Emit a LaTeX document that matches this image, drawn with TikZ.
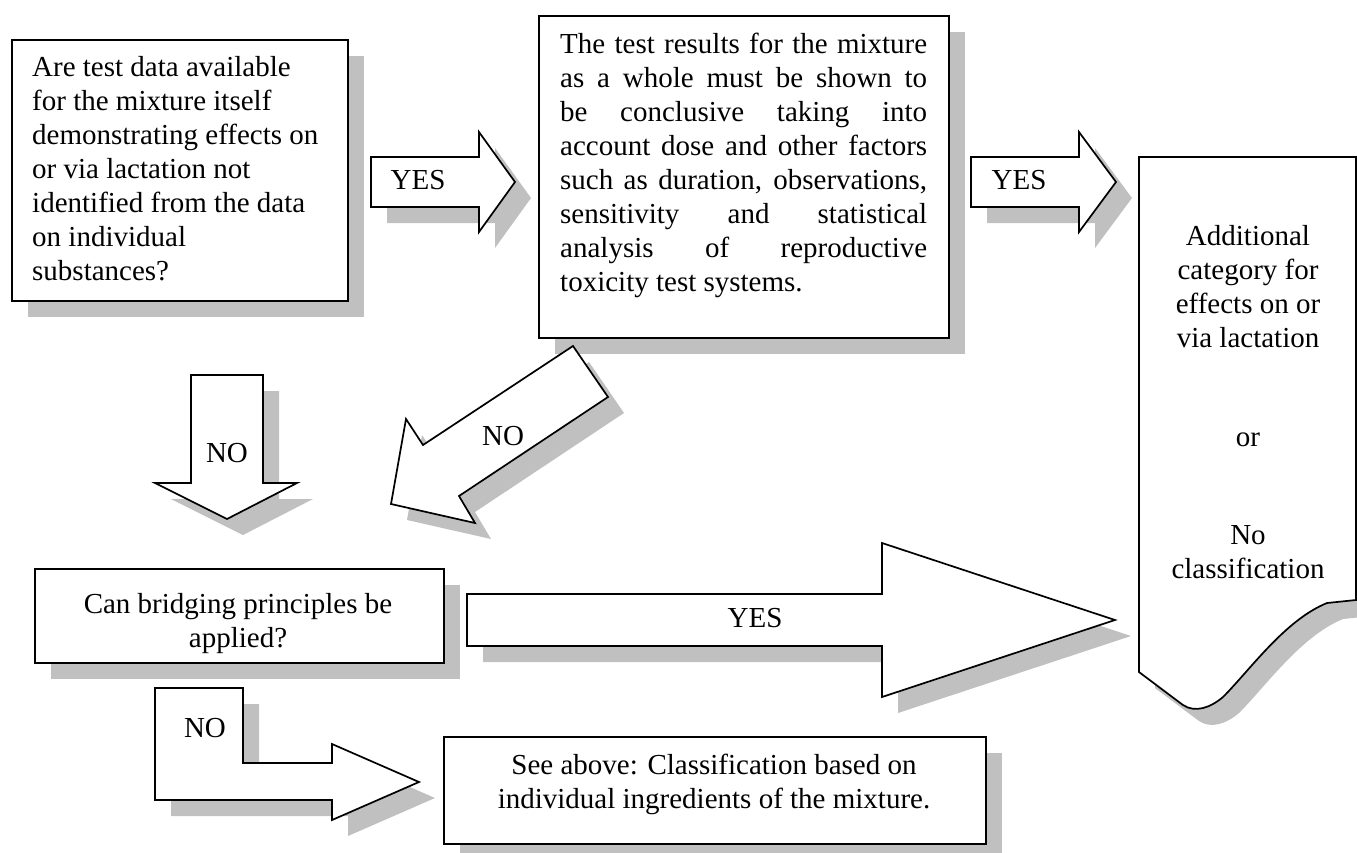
\documentclass[tikz,border=0pt]{standalone}
\usepackage{fontspec}
\setmainfont{Liberation Serif}
\usetikzlibrary{shadows}
\definecolor{shadowgray}{RGB}{192,192,192}
\newcommand\jline[1]{\makebox[367pt][s]{#1}}
\tikzset{
  frame/.style={draw=black, line width=1.7pt, fill=white, line join=miter},
  shd/.style={drop shadow={shadow xshift=16pt, shadow yshift=-16pt, opacity=1, fill=shadowgray}},
  boxnode/.style={frame, shd, rectangle, inner sep=0pt, anchor=north west},
  txt/.style={inner sep=0pt, font=\fontsize{29}{34}\selectfont},
}
\begin{document}
\begin{tikzpicture}[x=1pt,y=-1pt]
\useasboundingbox (0,0) rectangle (1357,852);
\clip (0,0) rectangle (1357,852);

% question 1
\node[boxnode, minimum width=336pt, minimum height=261pt] (q1) at (11,39) {};
\node[txt, align=left, anchor=west] (q1t) at (32,169) {Are test data available\\for the mixture itself\\demonstrating effects on\\or via lactation not\\identified from the data\\on individual\\substances?};

% question 2
\node[boxnode, minimum width=410pt, minimum height=322pt] (q2) at (538,15) {};
\node[txt, align=left, anchor=west] (q2t) at (560,165) {\jline{The test results for the mixture}\\\jline{as a whole must be shown to}\\\jline{be conclusive taking into}\\\jline{account dose and other factors}\\\jline{such as duration, observations,}\\\jline{sensitivity and statistical}\\\jline{analysis of reproductive}\\toxicity test systems.};

% result document shape
\filldraw[frame, shd] (1139,157) -- (1356,157) -- (1356,600) -- (1327,603)
  .. controls (1285,620) and (1250,670) .. (1223,697)
  .. controls (1210,708) and (1195,713) .. (1183,705) -- (1139,672) -- cycle;
\node[txt, align=center] (rt) at (1248,287) {Additional\\category for\\effects on or\\via lactation};
\node[txt, anchor=base] (ror) at (1248,446) {or};
\node[txt, align=center] (rno) at (1248,552) {No\\classification};

% YES arrows (top)
\filldraw[frame, shd] (371,157) -- (479,157) -- (479,132) -- (515,182) -- (479,232) -- (479,207) -- (371,207) -- cycle;
\node[txt, anchor=base] (y1) at (418,189) {YES};
\filldraw[frame, shd] (971,157) -- (1079,157) -- (1079,132) -- (1116,182) -- (1079,232) -- (1079,207) -- (971,207) -- cycle;
\node[txt, anchor=base] (y2) at (1019,189) {YES};

% NO down arrow
\filldraw[frame, shd] (191,375) -- (263,375) -- (263,483) -- (297,483) -- (227,519) -- (155,483) -- (191,483) -- cycle;
\node[txt, anchor=base] (n1) at (227,462) {NO};

% NO diagonal arrow
\filldraw[frame, shd] (573,346) -- (608,397) -- (459,496) -- (475,523) -- (391,504) -- (406,419) -- (423,445) -- cycle;
\node[txt, anchor=base] (n2) at (503,445) {NO};

% bridging question
\node[boxnode, minimum width=409pt, minimum height=94pt] (q3) at (34,568) {};
\node[txt, align=center] (q3t) at (238,624) {Can bridging principles be\\applied?};

% big YES arrow
\filldraw[frame, shd] (467,594) -- (882,594) -- (882,543) -- (1115,620) -- (882,697) -- (882,646) -- (467,646) -- cycle;
\node[txt, anchor=base] (y3) at (755,627) {YES};

% bent NO arrow
\filldraw[frame, shd] (155,688) -- (243,688) -- (243,763) -- (332,763) -- (332,744) -- (419,782) -- (332,820) -- (332,800) -- (155,800) -- cycle;
\node[txt, anchor=base] (n3) at (205,737) {NO};

% final box
\node[boxnode, minimum width=542pt, minimum height=107pt] (q4) at (443,736) {};
\node[txt, align=center] (q4t) at (714,784) {See above: Classification based on\\individual ingredients of the mixture.};
\end{tikzpicture}
\end{document}
